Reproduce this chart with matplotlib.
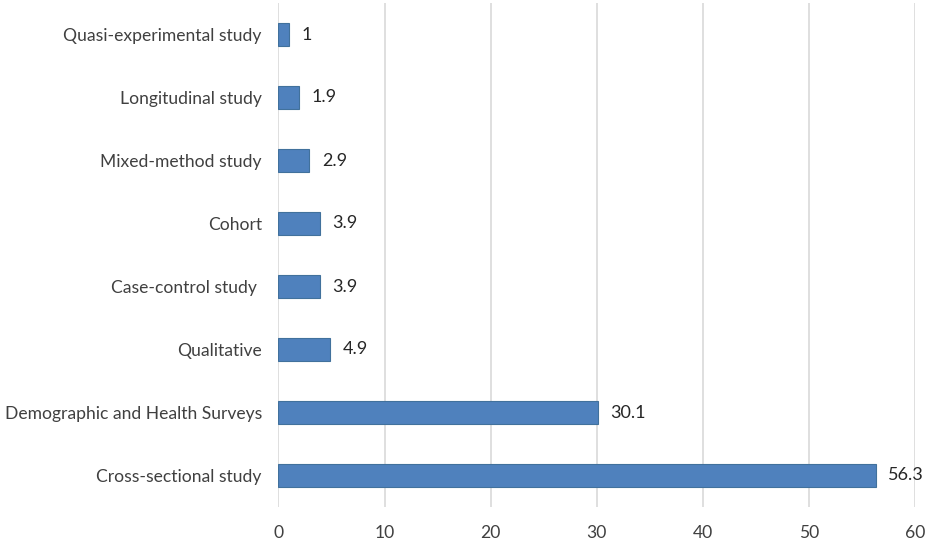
import matplotlib.pyplot as plt
import numpy as np

plt.rcParams['font.family'] = ['Lato', 'DejaVu Sans']

categories = [
    "Cross-sectional study",
    "Demographic and Health Surveys",
    "Qualitative",
    "Case-control study ",
    "Cohort",
    "Mixed-method study",
    "Longitudinal study",
    "Quasi-experimental study",
]
values = [56.3, 30.1, 4.9, 3.9, 3.9, 2.9, 1.9, 1]
value_labels = ["56.3", "30.1", "4.9", "3.9", "3.9", "2.9", "1.9", "1"]
x_ticks = [0, 10, 20, 30, 40, 50, 60]

text_color = "#404040"
bar_color = "#4F81BD"
edge_color = "#41719C"

fig = plt.figure(figsize=(9.29, 5.43), dpi=100)
ax = fig.add_axes([278.5 / 929, 36 / 543, (915 - 278.5) / 929, (540 - 36) / 543])

y = np.arange(len(categories))
ax.barh(y, values, height=0.35, color=bar_color, edgecolor=edge_color, linewidth=0.8, zorder=3)

for yi, v, lab in zip(y, values, value_labels):
    ax.annotate(lab, (v, yi), xytext=(9, 0), textcoords="offset points",
                va="center", ha="left", fontsize=13, color="#262626")

ax.set_xlim(0, 60)
ax.set_ylim(-0.5, len(categories) - 0.5)
ax.set_xticks(x_ticks)
ax.set_yticks(y)
ax.set_yticklabels(categories)
ax.tick_params(axis="both", length=0, labelsize=12.6, labelcolor=text_color)
ax.tick_params(axis="y", pad=12)
ax.tick_params(axis="x", pad=13)
ax.grid(axis="x", color="#D9D9D9", linewidth=1.2, zorder=0)
for s in ax.spines.values():
    s.set_visible(False)

fig.savefig("out.png", dpi=100)
